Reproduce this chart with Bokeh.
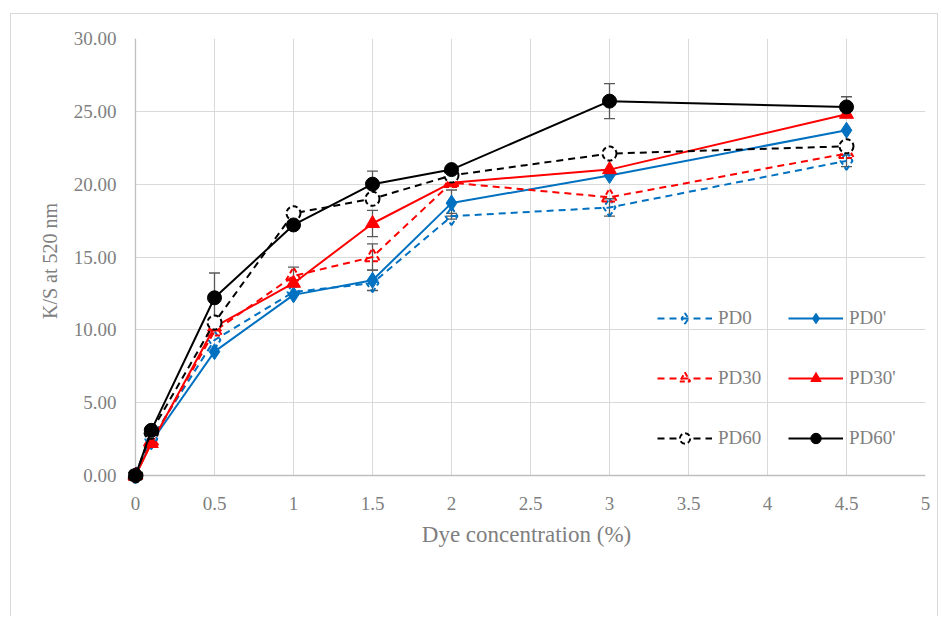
from bokeh.plotting import figure
from bokeh.models import (ColumnDataSource, Whisker, TeeHead, Legend, LegendItem,
                          FixedTicker, NumeralTickFormatter, Range1d, Grid)
from bokeh.embed import file_html
from bokeh.resources import INLINE

# ---- data ----
conc = [0, 0.1, 0.5, 1, 1.5, 2, 3, 4.5]
pd0 = [0, 2.5, 9.3, 12.6, 13.2, 17.8, 18.4, 21.6]
pd0p = [0, 2.3, 8.5, 12.4, 13.4, 18.7, 20.6, 23.7]
pd30 = [0, 2.3, 9.9, 13.7, 15.0, 20.1, 19.1, 22.1]
pd30p = [0, 2.2, 10.2, 13.2, 17.3, 20.1, 21.0, 24.8]
pd60 = [0, 3.0, 10.5, 18.0, 19.0, 20.6, 22.1, 22.6]
pd60p = [0, 3.1, 12.2, 17.2, 20.0, 21.0, 25.7, 25.3]

err_pd0 = [0, 0, 0, 0, 0, 0.2, 0.6, 0.4]
err_pd0p = [0, 0, 0, 0, 0.7, 0.9, 0, 0]
err_pd30 = [0, 0, 0, 0.6, 0.9, 0, 0, 0]
err_pd30p = [0, 0, 0, 0, 0.9, 0, 0, 0]
err_pd60 = [0, 0, 0, 0, 0, 0, 0, 0]
err_pd60p = [0, 0, 1.7, 0, 0.9, 0, 1.2, 0.7]

x_ticks = [0, 0.5, 1, 1.5, 2, 2.5, 3, 3.5, 4, 4.5, 5]
y_ticks = [0, 5, 10, 15, 20, 25, 30]

BLUE = "#0070C0"
RED = "#FF0000"
BLACK = "#000000"
TXT = "#7f7f7f"
FONT = "Liberation Serif"

p = figure(width=928, height=603,
           x_range=Range1d(-8 / 158, 5), y_range=Range1d(-8 / 14.567, 30),
           output_backend="svg", toolbar_location=None,
           min_border_left=116, min_border_right=14,
           min_border_top=24, min_border_bottom=134)
p.styles = {"position": "absolute", "left": "10px", "top": "13px",
            "border": "1px solid #d9d9d9", "border-bottom": "none"}
p.outline_line_color = None

# axes
for ax in (p.xaxis[0], p.yaxis[0]):
    ax.axis_line_color = None
    ax.major_tick_line_color = None
    ax.minor_tick_line_color = None
    ax.major_label_text_font = FONT
    ax.major_label_text_font_size = "19px"
    ax.major_label_text_color = TXT
    ax.axis_label_text_font = FONT
    ax.axis_label_text_font_style = "normal"
    ax.axis_label_text_color = TXT

p.xaxis.ticker = FixedTicker(ticks=x_ticks)
p.yaxis.ticker = FixedTicker(ticks=y_ticks)
p.xaxis.formatter = NumeralTickFormatter(format="0.[0]")
p.yaxis.formatter = NumeralTickFormatter(format="0.00")
p.xaxis.axis_label = "Dye concentration (%)"
p.yaxis.axis_label = "K/S at 520 nm"
p.xaxis.axis_label_text_font_size = "23px"
p.yaxis.axis_label_text_font_size = "20px"
p.xaxis.major_label_standoff = 7
p.yaxis.major_label_standoff = 5
p.xaxis.axis_label_standoff = 9
p.yaxis.axis_label_standoff = 10

p.xgrid.ticker = FixedTicker(ticks=x_ticks)
p.ygrid.ticker = FixedTicker(ticks=y_ticks)
for g in (p.xgrid[0], p.ygrid[0]):
    g.grid_line_color = "#d9d9d9"
    g.grid_line_width = 1
has_cb = "cross_bounds" in p.xgrid[0].properties()
if has_cb:
    p.xgrid[0].cross_bounds = (0, 30)
    p.ygrid[0].cross_bounds = (0, 5)

# axis lines at x=0 and y=0
ax_x = Grid(dimension=1, ticker=FixedTicker(ticks=[0]), grid_line_color="#bfbfbf",
            grid_line_width=1.3)
ax_y = Grid(dimension=0, ticker=FixedTicker(ticks=[0]), grid_line_color="#bfbfbf",
            grid_line_width=1.3)
if has_cb:
    ax_x.cross_bounds = (0, 5)
    ax_y.cross_bounds = (0, 30)
p.add_layout(ax_x, "center")
p.add_layout(ax_y, "center")


def add_err(vals, errs):
    xs = [c for c, e in zip(conc, errs) if e > 0]
    if not xs:
        return
    up = [v + e for v, e in zip(vals, errs) if e > 0]
    lo = [v - e for v, e in zip(vals, errs) if e > 0]
    src = ColumnDataSource(dict(base=xs, upper=up, lower=lo))
    w = Whisker(source=src, base="base", upper="upper", lower="lower",
                line_color="#595959", line_width=1.3,
                upper_head=TeeHead(size=11, line_color="#595959", line_width=1.3),
                lower_head=TeeHead(size=11, line_color="#595959", line_width=1.3))
    p.add_layout(w)


for vals, errs in ((pd0, err_pd0), (pd0p, err_pd0p), (pd30, err_pd30),
                   (pd30p, err_pd30p), (pd60, err_pd60), (pd60p, err_pd60p)):
    add_err(vals, errs)

DASH = "7 5"
series = [
    ("PD0", pd0, BLUE, "diamond", True, 18),
    ("PD0'", pd0p, BLUE, "diamond", False, 16),
    ("PD30", pd30, RED, "triangle", True, 15),
    ("PD30'", pd30p, RED, "triangle", False, 14),
    ("PD60", pd60, BLACK, "circle", True, 14),
    ("PD60'", pd60p, BLACK, "circle", False, 14),
]
items = {}
for name, vals, col, mk, dashed, sz in series:
    src = ColumnDataSource(dict(x=conc, y=vals))
    ln = p.line("x", "y", source=src, line_color=col, line_width=2,
                line_dash=DASH if dashed else "solid")
    if dashed:
        sc = p.scatter("x", "y", source=src, marker=mk, size=sz,
                       fill_color="white", fill_alpha=0.0 if mk != "circle" else 1.0,
                       line_color=col, line_width=2, line_dash="5 3")
    else:
        sc = p.scatter("x", "y", source=src, marker=mk, size=sz,
                       fill_color=col, line_color=col, line_width=1)
    items[name] = LegendItem(label=name, renderers=[ln, sc])


def make_legend(names, xloc):
    lg = Legend(items=[items[n] for n in names], location=(xloc, 32),
                orientation="vertical", padding=0, margin=0, spacing=34,
                glyph_width=55, glyph_height=26, label_height=26,
                label_standoff=6, border_line_color=None,
                background_fill_alpha=0.0,
                label_text_font=FONT, label_text_font_size="19px",
                label_text_color=TXT)
    p.add_layout(lg, "center")


make_legend(["PD0", "PD30", "PD60"], 530)
make_legend(["PD0'", "PD30'", "PD60'"], 661)

open("out.html", "w").write(file_html(p, INLINE))
